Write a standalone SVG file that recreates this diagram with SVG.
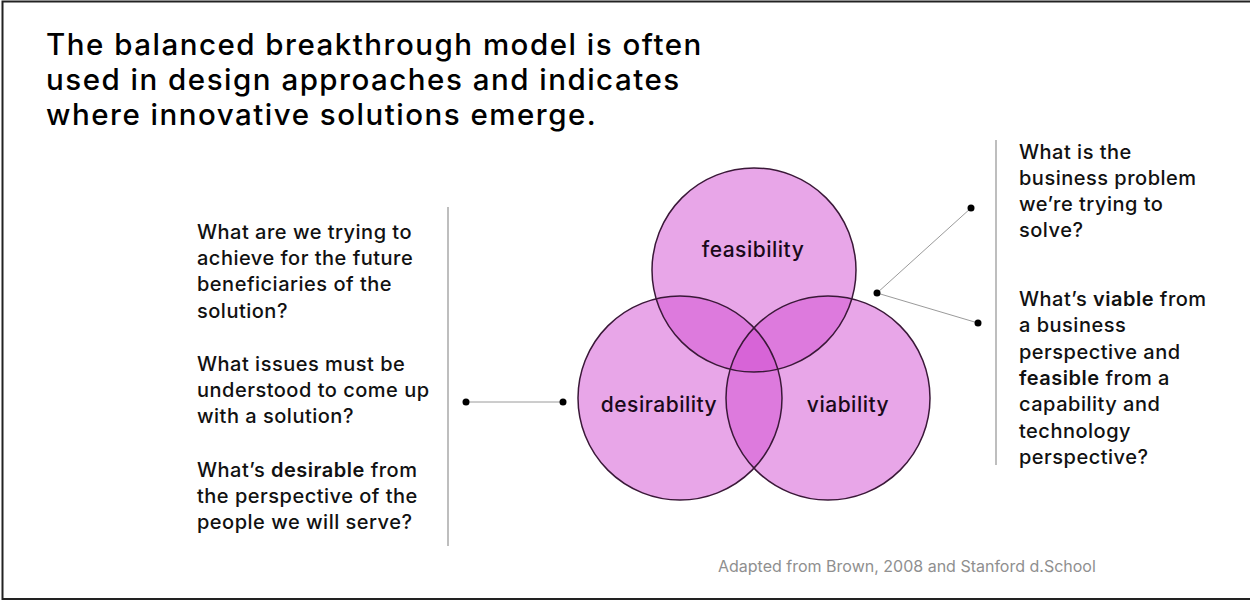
<svg xmlns="http://www.w3.org/2000/svg" width="1250" height="601" viewBox="0 0 1250 601">
  <style>
    .title { font-family: Inter, "Liberation Sans", sans-serif; font-size: 29.5px; font-weight: 500; letter-spacing: 1.5px; fill: #000; }
    .body { font-family: Inter, "Liberation Sans", sans-serif; font-size: 20px; font-weight: 500; letter-spacing: 0.5px; fill: #111; }
    .em { font-weight: 600; }
    .lbl { font-family: Inter, "Liberation Sans", sans-serif; font-size: 21px; font-weight: 500; letter-spacing: 0.5px; fill: #1a0a1a; text-anchor: middle; }
    .note { font-family: Inter, "Liberation Sans", sans-serif; font-size: 16px; fill: #8f8f8f; }
    .fill { fill: #D14DD1; fill-opacity: 0.5; }
    .ring { fill: none; stroke: #3a1838; stroke-width: 1.5; }
    .sep { stroke: #a8a8a8; stroke-width: 1.5; }
    .wire { stroke: #9a9a9a; stroke-width: 1; fill: none; }
    .dot { fill: #000; }
  </style>

  <!-- frame -->
  <path d="M1250 1.5 H2.5 V599 H1250" fill="none" stroke="#222" stroke-width="2"/>

  <!-- heading -->
  <g id="title">
    <text class="title" x="46" y="55">The balanced breakthrough model is often</text>
    <text class="title" x="46" y="90">used in design approaches and indicates</text>
    <text class="title" x="46" y="125">where innovative solutions emerge.</text>
  </g>

  <!-- left question block -->
  <g id="desirability-questions">
    <text class="body" x="197" y="239">What are we trying to</text>
    <text class="body" x="197" y="265">achieve for the future</text>
    <text class="body" x="197" y="291">beneficiaries of the</text>
    <text class="body" x="197" y="318">solution?</text>
    <text class="body" x="197" y="371">What issues must be</text>
    <text class="body" x="197" y="397">understood to come up</text>
    <text class="body" x="197" y="423">with a solution?</text>
    <text class="body" x="197" y="477">What’s <tspan class="em">desirable</tspan> from</text>
    <text class="body" x="197" y="503">the perspective of the</text>
    <text class="body" x="197" y="529">people we will serve?</text>
    <line class="sep" x1="448" y1="207" x2="448" y2="546"/>
  </g>

  <!-- right question block -->
  <g id="viability-feasibility-questions">
    <text class="body" x="1019" y="159">What is the</text>
    <text class="body" x="1019" y="185">business problem</text>
    <text class="body" x="1019" y="211">we’re trying to</text>
    <text class="body" x="1019" y="237">solve?</text>
    <text class="body" x="1019" y="306">What’s <tspan class="em">viable</tspan> from</text>
    <text class="body" x="1019" y="332">a business</text>
    <text class="body" x="1019" y="359">perspective and</text>
    <text class="body" x="1019" y="385"><tspan class="em">feasible</tspan> from a</text>
    <text class="body" x="1019" y="411">capability and</text>
    <text class="body" x="1019" y="438">technology</text>
    <text class="body" x="1019" y="464">perspective?</text>
    <line class="sep" x1="996" y1="140" x2="996" y2="465"/>
  </g>

  <!-- Venn diagram -->
  <g id="venn">
    <g id="fills">
      <circle class="fill" cx="754" cy="270" r="102"/>
      <circle class="fill" cx="680" cy="398" r="102"/>
      <circle class="fill" cx="828" cy="398" r="102"/>
    </g>
    <g id="feasibility">
      <circle class="ring" cx="754" cy="270" r="102"/>
      <text class="lbl" x="753" y="257">feasibility</text>
    </g>
    <g id="desirability">
      <circle class="ring" cx="680" cy="398" r="102"/>
      <text class="lbl" x="659" y="412">desirability</text>
    </g>
    <g id="viability">
      <circle class="ring" cx="828" cy="398" r="102"/>
      <text class="lbl" x="848" y="412">viability</text>
    </g>
  </g>

  <!-- connectors -->
  <g id="connectors">
    <line class="wire" x1="466" y1="402" x2="563" y2="402"/>
    <polyline class="wire" points="971,208 877,293 978,323"/>
    <circle class="dot" cx="466" cy="402" r="3.5"/>
    <circle class="dot" cx="563" cy="402" r="3.5"/>
    <circle class="dot" cx="877" cy="293" r="3.5"/>
    <circle class="dot" cx="971" cy="208" r="3.5"/>
    <circle class="dot" cx="978" cy="323" r="3.5"/>
  </g>

  <!-- source note -->
  <text class="note" x="718" y="572">Adapted from Brown, 2008 and Stanford d.School</text>
</svg>
